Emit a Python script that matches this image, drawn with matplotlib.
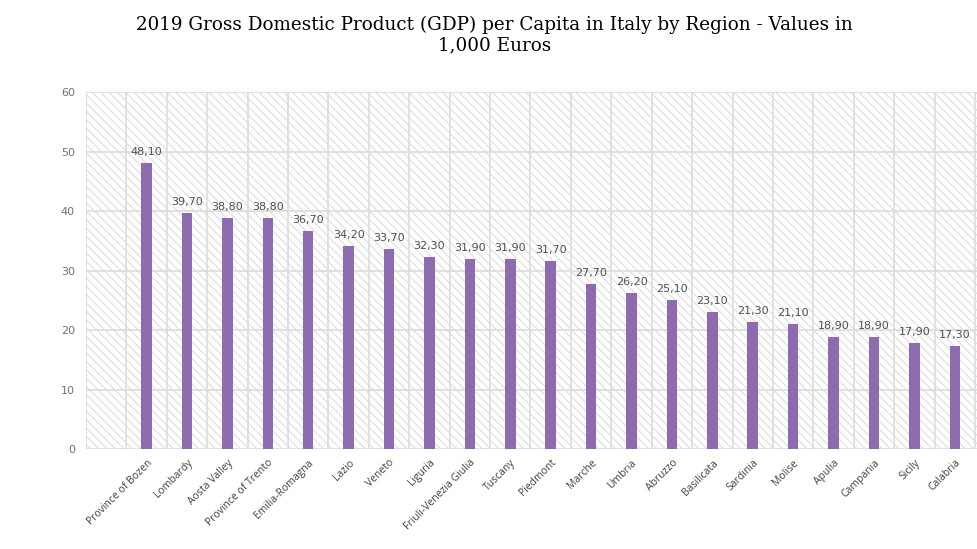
import matplotlib
matplotlib.use("Agg")
import matplotlib.pyplot as plt
from matplotlib.patches import Rectangle
import numpy as np

regions = ["Province of Bozen", "Lombardy", "Aosta Valley", "Province of Trento",
           "Emilia-Romagna", "Lazio", "Veneto", "Liguria", "Friuli-Venezia Giulia",
           "Tuscany", "Piedmont", "Marche", "Umbria", "Abruzzo", "Basilicata",
           "Sardinia", "Molise", "Apulia", "Campania", "Sicily", "Calabria"]
gdp = [48.1, 39.7, 38.8, 38.8, 36.7, 34.2, 33.7, 32.3, 31.9, 31.9, 31.7,
       27.7, 26.2, 25.1, 23.1, 21.3, 21.1, 18.9, 18.9, 17.9, 17.3]
yticks = [0, 10, 20, 30, 40, 50, 60]

plt.rcParams['hatch.linewidth'] = 0.6
plt.rcParams['hatch.color'] = '#d4d4d4'

fig = plt.figure(figsize=(9.77, 5.49), dpi=100)
ax = fig.add_axes([0.088, 0.182, 0.912, 0.650])

n = len(regions)
x = np.arange(n)

# hatched plot background
ax.add_patch(Rectangle((0, 0), 1, 1, transform=ax.transAxes, facecolor='white',
                       edgecolor='#d4d4d4', hatch='\\\\\\\\', linewidth=0, zorder=0))

for y in yticks:
    ax.axhline(y, color='#dcdcdc', linewidth=1.2, zorder=1)
# category separators, with one empty slot before the first region
for b in np.arange(-1.5, n + 0.5, 1):
    ax.axvline(b, color='#dcdcdc', linewidth=1.2, zorder=1)

ax.bar(x, gdp, width=0.26, color='#8e6bae', zorder=3)

for xi, v in zip(x, gdp):
    ax.text(xi, v + 1.0, f"{v:.2f}".replace(".", ","), ha='center', va='bottom',
            fontsize=8, color='#505050', family='DejaVu Sans')

ax.set_xlim(-1.5, n - 0.45)
ax.set_ylim(0, 60)
ax.set_yticks(yticks)
ax.set_xticks(x)
ax.set_xticklabels(regions, rotation=45, ha='right', rotation_mode='anchor',
                   fontsize=7.5, color='#404040', family='Open Sans')
ax.tick_params(axis='y', labelsize=8, colors='#707070', length=0, pad=8)
ax.tick_params(axis='x', length=0, pad=6)
for s in ax.spines.values():
    s.set_visible(False)

fig.suptitle("2019 Gross Domestic Product (GDP) per Capita in Italy by Region - Values in\n1,000 Euros",
             x=0.506, y=0.972, fontsize=13.2, family='DejaVu Serif', linespacing=1.2)

fig.savefig("out.png", dpi=100)
